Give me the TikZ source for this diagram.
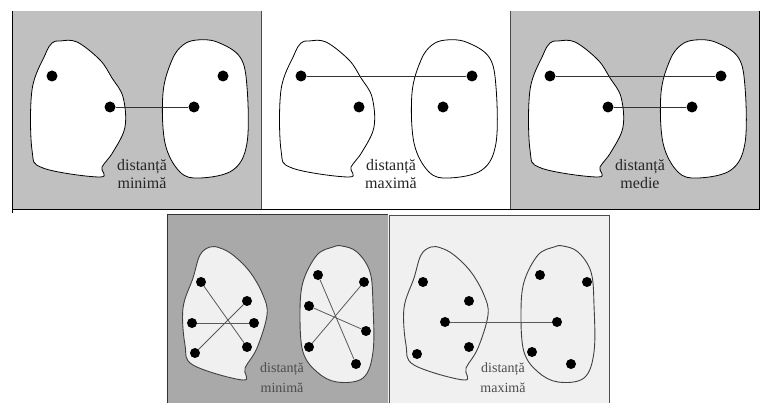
\documentclass[tikz,border=0pt]{standalone}
\usepackage{fontspec}
\setmainfont{Liberation Serif}
\usepackage{xcolor}
\usetikzlibrary{positioning, calc}
\definecolor{panelgrey}{HTML}{C0C0C0}
\definecolor{darkpanel}{HTML}{A9A9A9}
\definecolor{lightfill}{HTML}{F0F0F0}

\begin{document}
\begin{tikzpicture}[x=1pt, y=-1pt,
    dot/.style={circle, fill=black, minimum size=11pt, inner sep=0pt},
    smalldot/.style={circle, fill=black, minimum size=10pt, inner sep=0pt},
    blob/.style={draw=black, fill=white, line width=0.8pt},
    lightblob/.style={draw=black!75, fill=lightfill, line width=0.9pt},
    link/.style={draw=black!80, line width=0.8pt},
    lbl/.style={align=center, font=\fontsize{16}{18}\selectfont, text=black!85},
    smalllbl/.style={align=center, font=\fontsize{14}{20}\selectfont, text=black!70}]
    \useasboundingbox (0,0) rectangle (760,403);

    % top row
    \foreach \dx/\bg in {0/panelgrey, 249/white, 498/panelgrey} {
        \begin{scope}[xshift=\dx pt]
            \fill[\bg] (12,11) rectangle (261,210);
            \draw[blob] plot[smooth cycle, tension=0.6] coordinates {(60,41) (77,42) (100,60) (112,78)
                (123,97) (125,127) (113,152) (102,167) (100,177) (43,168) (32,150) (32,90) (45,55) (52,43)};
            \draw[blob] plot[smooth cycle, tension=0.6] coordinates {(197,40) (217,42) (240,57) (247,87)
                (247,143) (233,170) (200,178) (180,172) (165,143) (163,93) (172,60) (183,45)};
        \end{scope}
    }
    \foreach \p/\dx in {a/0, b/249, c/498} {
        \begin{scope}[xshift=\dx pt]
            \node[dot] (\p1) at (52,76) {};
            \node[dot] (\p2) at (110,107) {};
            \node[dot] (\p3) at (194,107) {};
            \node[dot] (\p4) at (223,76) {};
        \end{scope}
    }
    \draw[black!70, line width=0.5pt] (261,11) -- (261,210) (510,11) -- (510,210);
    \draw[black, line width=1pt] (12,11) -- (12,213) (12,210) -- (760,210) (759,11) -- (759,210);

    \draw[link] (a2) -- (a3);
    \draw[link] (b1) -- (b4);
    \draw[link] (c1) -- (c4);
    \draw[link] (c2) -- (c3);

    \node[lbl] (ta) at (142,174) {distanță\\minimă};
    \node[lbl] (tb) at (391,174) {distanță\\maximă};
    \node[lbl] (tc) at (640,174) {distanță\\medie};

    % bottom row
    \fill[darkpanel] (167,215) rectangle (388,403);
    \fill[lightfill] (388,216) rectangle (610,403);
    \draw[black!80, line width=1pt] (167,403) -- (167,215) -- (388,215);
    \draw[black!70, line width=1pt] (389,403) -- (389,216) -- (609,216) -- (609,403);
    \foreach \dx in {0, 221} {
        \begin{scope}[xshift=\dx pt]
            \draw[lightblob] plot[smooth cycle, tension=0.6] coordinates {(210,247) (220,248) (233,255)
                (250,272) (263,295) (267,315) (257,348) (245,368) (243,380) (193,365) (185,345) (183,308)
                (193,278) (200,255)};
            \draw[lightblob] plot[smooth cycle, tension=0.6] coordinates {(333,247) (342,246) (357,252)
                (370,272) (373,305) (373,352) (363,378) (337,382) (317,372) (303,352) (300,315) (303,282)
                (317,255)};
        \end{scope}
    }

    % panel 4: all pairs through the centre
    \node[smalldot] (d1) at (201,282) {};
    \node[smalldot] (d2) at (247,301) {};
    \node[smalldot] (d3) at (192,323) {};
    \node[smalldot] (d4) at (254,323) {};
    \node[smalldot] (d5) at (195,353) {};
    \node[smalldot] (d6) at (247,347) {};
    \node[smalldot] (e1) at (318,275) {};
    \node[smalldot] (e2) at (364,282) {};
    \node[smalldot] (e3) at (309,306) {};
    \node[smalldot] (e4) at (366,331) {};
    \node[smalldot] (e5) at (309,347) {};
    \node[smalldot] (e6) at (356,364) {};
    \draw[link, black!65] (d1) -- (d6);
    \draw[link, black!65] (d3) -- (d4);
    \draw[link, black!65] (d5) -- (d2);
    \draw[link, black!65] (e1) -- (e6);
    \draw[link, black!65] (e3) -- (e4);
    \draw[link, black!65] (e5) -- (e2);
    \node[smalllbl] (td) at (282,378) {distanță\\minimă};

    % panel 5: centres only
    \node[smalldot] (f1) at (423,282) {};
    \node[smalldot] (f2) at (469,301) {};
    \node[smalldot] (f3) at (445,322) {};
    \node[smalldot] (f4) at (469,347) {};
    \node[smalldot] (f5) at (417,354) {};
    \node[smalldot] (g1) at (540,275) {};
    \node[smalldot] (g2) at (587,282) {};
    \node[smalldot] (g3) at (557,322) {};
    \node[smalldot] (g4) at (532,352) {};
    \node[smalldot] (g5) at (571,364) {};
    \draw[link, black!65] (f3) -- (g3);
    \node[smalllbl] (te) at (503,378) {distanță\\maximă};
\end{tikzpicture}
\end{document}
